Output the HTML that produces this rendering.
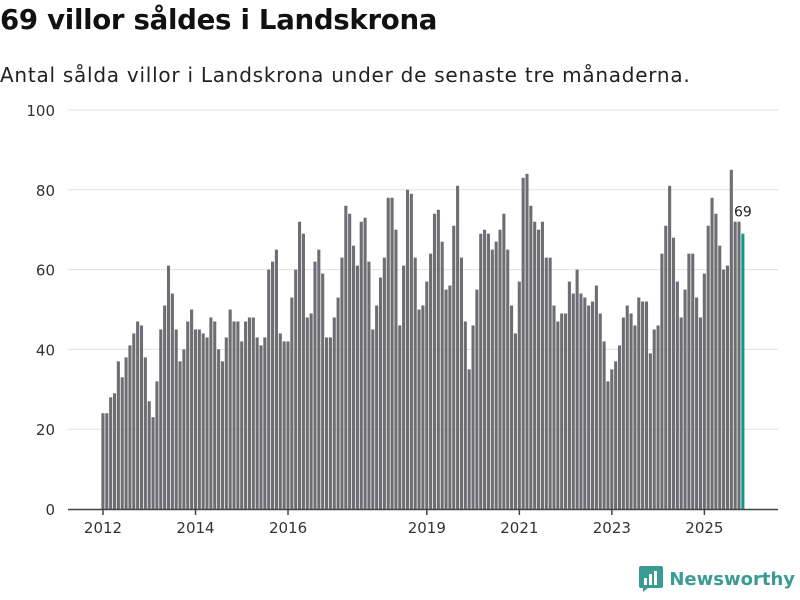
<!DOCTYPE html>
<html><head><meta charset="utf-8"><style>
body{margin:0;width:800px;height:600px;background:#fff;font-family:"DejaVu Sans","Liberation Sans",sans-serif;overflow:hidden;position:relative}
h1{position:absolute;left:0;top:3px;margin:0;font-size:27.6px;font-weight:bold;color:#111;letter-spacing:-0.3px}
.sub{position:absolute;left:0;top:63px;font-size:20px;letter-spacing:0.75px;color:#222}
.logo{position:absolute;right:5px;bottom:8px;display:flex;align-items:center;gap:6px;font-size:18px;color:#3a9b94;font-weight:bold}
</style></head><body>
<h1>69 villor såldes i Landskrona</h1>
<div class="sub">Antal sålda villor i Landskrona under de senaste tre månaderna.</div>
<svg id="chart" width="800" height="600" style="position:absolute;left:0;top:0"></svg>
<div class="logo"><svg width="24" height="26" viewBox="0 0 24 26"><rect x="0" y="0" width="24" height="22" rx="2" fill="#3a9b94"/><rect x="5" y="12" width="3" height="7" fill="#fff"/><rect x="10" y="8" width="3" height="11" fill="#fff"/><rect x="15" y="5" width="3" height="14" fill="#fff"/><path d="M4 22 L4 26 L9 22Z" fill="#3a9b94"/></svg><span>Newsworthy</span></div>
<script>
const values=[24,24,28,29,37,33,38,41,44,47,46,38,
27,23,32,45,51,61,54,45,37,40,47,50,
45,45,44,43,48,47,40,37,43,50,47,47,
42,47,48,48,43,41,43,60,62,65,44,42,
42,53,60,72,69,48,49,62,65,59,43,43,
48,53,63,76,74,66,61,72,73,62,45,51,
58,63,78,78,70,46,61,80,79,63,50,51,
57,64,74,75,67,55,56,71,81,63,47,35,
46,55,69,70,69,65,67,70,74,65,51,44,
57,83,84,76,72,70,72,63,63,51,47,49,
49,57,54,60,54,53,51,52,56,49,42,32,
35,37,41,48,51,49,46,53,52,52,39,45,
46,64,71,81,68,57,48,55,64,64,53,48,
59,71,78,74,66,60,61,85,72,72,69];
const startYear=2012;
const yTicks=[0,20,40,60,80,100];
const xTickYears=[2012,2014,2016,2019,2021,2023,2025];
const svg=document.getElementById('chart');
const NS='http://www.w3.org/2000/svg';
const x0=103,step=3.855,yBase=509,yScale=3.99;
const xPos=i=>x0+i*step;
const yPos=v=>yBase-v*yScale;
const FF='DejaVu Sans, Liberation Sans, sans-serif';
function mk(t,a){const e=document.createElementNS(NS,t);for(const k in a)e.setAttribute(k,a[k]);svg.appendChild(e);return e;}
yTicks.forEach(t=>{
 if(t>0){const g=mk('line',{x1:68,x2:778,y1:yPos(t),y2:yPos(t),stroke:'#e0e0e0','stroke-width':1});
 
 }
 const l=mk('text',{x:55,y:yPos(t)+6,'text-anchor':'end','font-size':15,fill:'#333','font-family':FF});
 l.textContent=t;
 
 
});
values.forEach((v,i)=>{
 const last=i===values.length-1;
 const r=mk('rect',{x:xPos(i)-1.6,y:yPos(v),width:3.1,height:v*yScale,fill:last?'#14968e':'#6e6d73'});
 
 
});
const ax=mk('line',{x1:68,x2:778,y1:yBase+0.5,y2:yBase+0.5,stroke:'#444','stroke-width':1.5});


xTickYears.forEach(yr=>{
 const x=xPos((yr-startYear)*12);
 const t=mk('line',{x1:x,x2:x,y1:yBase,y2:yBase+6,stroke:'#444','stroke-width':1.5});
 
 
 const l=mk('text',{x:x,y:yBase+24,'text-anchor':'middle','font-size':15,fill:'#333','font-family':FF});
 l.textContent=yr;
 
 
});
const li=values.length-1;
const lab=mk('text',{x:xPos(li)-0,y:yPos(values[li])-17,'text-anchor':'middle','font-size':14,fill:'#222',stroke:'#fff','stroke-width':3,'paint-order':'stroke','font-family':FF});
lab.textContent=values[li];


</script>
</body></html>
